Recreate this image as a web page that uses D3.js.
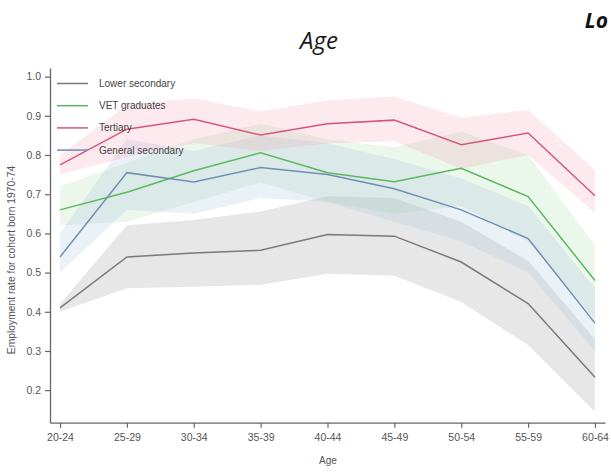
<!DOCTYPE html>
<html>
<head>
<meta charset="utf-8">
<script src="https://cdn.jsdelivr.net/npm/d3@7"></script>
<style>
  html, body { margin: 0; padding: 0; background: #fff; }
  svg { display: block; }
</style>
</head>
<body>
<svg id="chart" width="611" height="473"></svg>
<script>
// Age groups on the x axis
const ageGroups = ["20-24","25-29","30-34","35-39","40-44","45-49","50-54","55-59","60-64"];
const yTicks = [0.2,0.3,0.4,0.5,0.6,0.7,0.8,0.9,1.0];

// Series names
const seriesNames = ["Lower secondary","VET graduates","Tertiary","General secondary"];

// Employment rate estimates with confidence bands
const lowerSecondary    = [0.41,0.54,0.55,0.557,0.597,0.593,0.527,0.421,0.233];
const lowerSecondaryLo  = [0.40,0.46,0.464,0.469,0.497,0.492,0.425,0.315,0.145];
const lowerSecondaryHi  = [0.42,0.621,0.634,0.656,0.695,0.69,0.63,0.53,0.33];

const vetGraduates      = [0.66,0.705,0.76,0.806,0.755,0.732,0.766,0.694,0.48];
const vetGraduatesLo    = [0.62,0.63,0.68,0.73,0.68,0.65,0.67,0.58,0.38];
const vetGraduatesHi    = [0.72,0.78,0.84,0.88,0.84,0.82,0.86,0.80,0.57];

const tertiary          = [0.775,0.866,0.891,0.851,0.88,0.889,0.826,0.856,0.696];
const tertiaryLo        = [0.75,0.795,0.83,0.81,0.83,0.835,0.765,0.80,0.652];
const tertiaryHi        = [0.80,0.928,0.945,0.911,0.94,0.949,0.895,0.915,0.762];

const generalSecondary   = [0.54,0.755,0.731,0.768,0.75,0.714,0.66,0.587,0.371];
const generalSecondaryLo = [0.50,0.66,0.65,0.69,0.68,0.63,0.58,0.50,0.30];
const generalSecondaryHi = [0.60,0.84,0.81,0.85,0.83,0.79,0.74,0.67,0.46];

const series = [
  { name: seriesNames[0], mid: lowerSecondary,   lo: lowerSecondaryLo,   hi: lowerSecondaryHi,   line: "#7a7a7a", fill: "rgba(150,150,150,0.23)" },
  { name: seriesNames[1], mid: vetGraduates,     lo: vetGraduatesLo,     hi: vetGraduatesHi,     line: "#5cb85c", fill: "rgba(150,210,150,0.18)" },
  { name: seriesNames[3], mid: generalSecondary, lo: generalSecondaryLo, hi: generalSecondaryHi, line: "#6f8fb3", fill: "rgba(160,190,220,0.22)" },
  { name: seriesNames[2], mid: tertiary,         lo: tertiaryLo,         hi: tertiaryHi,         line: "#d4577a", fill: "rgba(240,150,175,0.2)" }
];
const legendOrder = [series[0], series[1], series[3], series[2]];

const svg = d3.select("#chart");

const x = d3.scalePoint().domain(ageGroups).range([50, 605]).padding(0.15);
const y = d3.scaleLinear().domain([0.117, 1.022]).range([422.7, 68]);

// Confidence bands
const area = d3.area()
  .x((d, i) => x(ageGroups[i]))
  .y0(d => y(d[0]))
  .y1(d => y(d[1]));

svg.append("g").selectAll("path")
  .data(series)
  .join("path")
  .attr("d", s => area(s.lo.map((v, i) => [v, s.hi[i]])))
  .attr("fill", s => s.fill)
  .attr("stroke", "none");

// Estimate lines
const line = d3.line()
  .x((d, i) => x(ageGroups[i]))
  .y(d => y(d));

svg.append("g").selectAll("path")
  .data(series)
  .join("path")
  .attr("d", s => line(s.mid))
  .attr("fill", "none")
  .attr("stroke", s => s.line)
  .attr("stroke-width", 1.5);

// Axes
const axisColor = "#666";
const gx = svg.append("g")
  .attr("transform", `translate(0,${y.range()[0]})`)
  .call(d3.axisBottom(x).tickSize(5).tickSizeOuter(0).tickPadding(6));
const gy = svg.append("g")
  .attr("transform", `translate(${x.range()[0]},0)`)
  .call(d3.axisLeft(y).tickValues(yTicks).tickFormat(d3.format(".1f")).tickSize(5).tickSizeOuter(0).tickPadding(4));

[gx, gy].forEach(g => {
  g.select(".domain").attr("stroke", axisColor).attr("stroke-width", 1.3);
  g.selectAll(".tick line").attr("stroke", axisColor).attr("stroke-width", 1.2);
  g.selectAll(".tick text")
    .attr("fill", "#555")
    .style("font-family", "'Liberation Sans', Arial, sans-serif")
    .style("font-size", "10.5px");
});

// Axis titles
svg.append("text")
  .attr("x", 328).attr("y", 464)
  .attr("text-anchor", "middle")
  .attr("fill", "#555")
  .style("font-family", "'Liberation Sans', Arial, sans-serif")
  .style("font-size", "10px")
  .text("Age");

svg.append("text")
  .attr("transform", "translate(15,260) rotate(-90)")
  .attr("text-anchor", "middle")
  .attr("fill", "#555")
  .style("font-family", "'Liberation Sans', Arial, sans-serif")
  .style("font-size", "10.3px")
  .text("Employment rate for cohort born 1970-74");

// Legend
const legend = svg.append("g");
legendOrder.forEach((s, i) => {
  const ly = 83.5 + i * 22.2;
  legend.append("line")
    .attr("x1", 57).attr("x2", 88)
    .attr("y1", ly).attr("y2", ly)
    .attr("stroke", s.line).attr("stroke-width", 1.5);
  legend.append("text")
    .attr("x", 99).attr("y", ly + 3.5)
    .attr("fill", "#444")
    .style("font-family", "'Liberation Sans', Arial, sans-serif")
    .style("font-size", "10px")
    .text(s.name);
});

// Headings
svg.append("text")
  .attr("x", 319).attr("y", 49)
  .attr("text-anchor", "middle")
  .attr("fill", "#1a1a1a")
  .style("font-family", "'Open Sans', sans-serif")
  .style("font-style", "italic")
  .style("font-size", "24px")
  .text("Age");

svg.append("text")
  .attr("x", 608).attr("y", 28)
  .attr("text-anchor", "end")
  .attr("fill", "#111")
  .style("font-family", "'Open Sans', sans-serif")
  .style("font-style", "italic")
  .style("font-weight", "bold")
  .style("font-size", "21px")
  .text("Lo");
</script>
</body>
</html>
